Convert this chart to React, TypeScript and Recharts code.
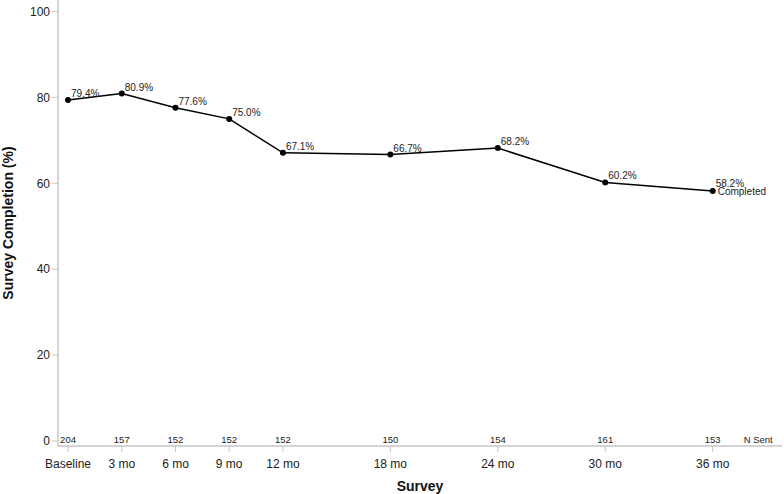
import React from "react";
import {
  LineChart,
  Line,
  XAxis,
  YAxis,
  LabelList,
} from "recharts";

/* Survey completion over follow-up, x is months since baseline */

const months = [0, 3, 6, 9, 12, 18, 24, 30, 36];
const surveyLabels = ["Baseline", "3 mo", "6 mo", "9 mo", "12 mo", "18 mo", "24 mo", "30 mo", "36 mo"];
const completion = [79.4, 80.9, 77.6, 75.0, 67.1, 66.7, 68.2, 60.2, 58.2];
const nSent = [204, 157, 152, 152, 152, 150, 154, 161, 153];
const yTicks = [0, 20, 40, 60, 80, 100];

const FONT = "'Liberation Sans', Arial, Helvetica, sans-serif";
const AXIS_GREY = "#c6c6c6";

const data = months.map((m, i) => ({
  month: m,
  label: surveyLabels[i],
  pct: completion[i],
  n: nSent[i],
}));

// tick: survey name below the axis, N sent just above it
// (y handed to the tick is axis + tickSize + tickMargin = axis + 8)
const SurveyTick = (props: any) => {
  const { x, y, payload, index } = props;
  const i = months.indexOf(payload.value);
  const isLast = index === months.length - 1;
  return (
    <g>
      <text
        x={x}
        y={y - 11}
        textAnchor="middle"
        fontSize={9.5}
        fill="#222"
        fontFamily={FONT}
      >
        {nSent[i]}
      </text>
      <text
        x={x}
        y={y + 14}
        textAnchor="middle"
        fontSize={12}
        fill="#222"
        fontFamily={FONT}
      >
        {surveyLabels[i]}
      </text>
      {isLast && (
        <text
          x={x + 31}
          y={y - 11}
          textAnchor="start"
          fontSize={9.5}
          fill="#222"
          fontFamily={FONT}
        >
          N Sent
        </text>
      )}
    </g>
  );
};

const PctLabel = (props: any) => {
  const { x, y, value, index } = props;
  const isLast = index === completion.length - 1;
  return (
    <g>
      <text
        x={x + 3}
        y={isLast ? y - 4 : y - 3}
        fontSize={10}
        fill="#222"
        fontFamily={FONT}
      >
        {`${Number(value).toFixed(1)}%`}
      </text>
      {isLast && (
        <text x={x + 5} y={y + 4} fontSize={10} fill="#222" fontFamily={FONT}>
          Completed
        </text>
      )}
    </g>
  );
};

const App: React.FC = () => {
  return (
    <div style={{ position: "absolute", left: 0, top: 0, background: "#fff" }}>
      <LineChart
        width={784}
        height={494}
        data={data}
        margin={{ top: 0, right: 2, left: 0, bottom: 0 }}
      >
        <XAxis
          dataKey="month"
          type="number"
          domain={[-0.56, 39.87]}
          ticks={months}
          allowDataOverflow
          height={48}
          tickSize={6}
          axisLine={{ stroke: AXIS_GREY, strokeWidth: 1.5 }}
          tickLine={{ stroke: AXIS_GREY }}
          tick={<SurveyTick />}
          interval={0}
          label={{
            content: ({ viewBox }: any) => (
              <text
                x={viewBox.x + viewBox.width / 2}
                y={viewBox.y + 45}
                textAnchor="middle"
                fontSize={14}
                fontWeight="bold"
                fill="#111"
                fontFamily={FONT}
              >
                Survey
              </text>
            ),
          }}
        />
        <YAxis
          type="number"
          domain={[-1.16, 102.68]}
          ticks={yTicks}
          allowDataOverflow
          width={58}
          tickSize={6}
          axisLine={{ stroke: AXIS_GREY, strokeWidth: 1.5 }}
          tickLine={{ stroke: AXIS_GREY }}
          tick={{ fill: "#222", fontSize: 12, fontFamily: FONT }}
          label={{
            content: ({ viewBox }: any) => {
              const cx = viewBox.x + 13;
              const cy = viewBox.y + viewBox.height / 2;
              return (
                <text
                  x={cx}
                  y={cy}
                  transform={`rotate(-90, ${cx}, ${cy})`}
                  textAnchor="middle"
                  fontSize={14}
                  fontWeight="bold"
                  fill="#111"
                  fontFamily={FONT}
                >
                  Survey Completion (%)
                </text>
              );
            },
          }}
        />
        <Line
          type="linear"
          dataKey="pct"
          stroke="#000"
          strokeWidth={1.5}
          dot={{ r: 3, fill: "#000", stroke: "#000", strokeWidth: 0 }}
          activeDot={false}
          isAnimationActive={false}
        >
          <LabelList dataKey="pct" content={<PctLabel />} />
        </Line>
      </LineChart>
    </div>
  );
};

export default App;
